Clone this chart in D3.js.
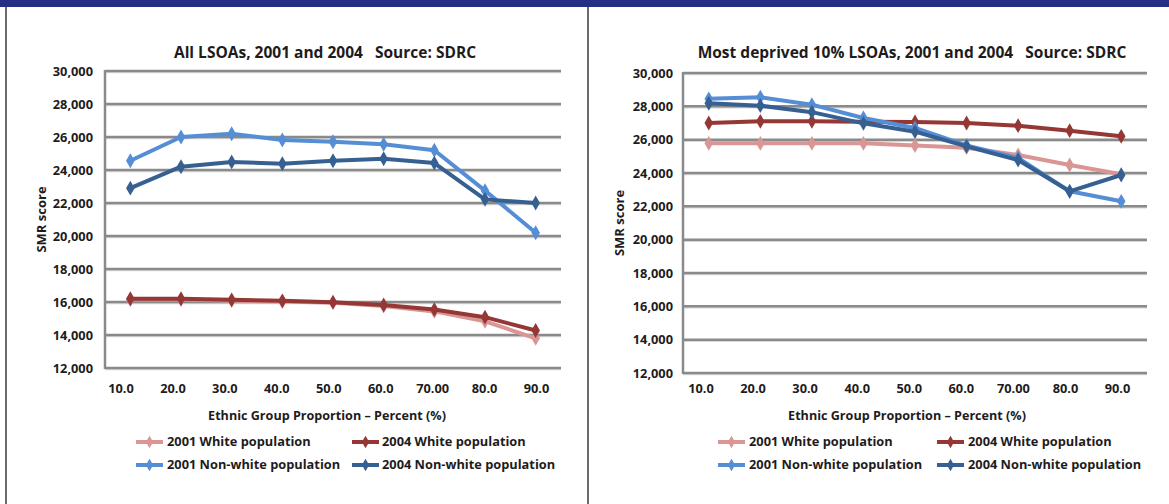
<!DOCTYPE html>
<html>
<head>
<meta charset="utf-8">
<script src="https://cdn.jsdelivr.net/npm/d3@7"></script>
<style>
  html, body { margin: 0; padding: 0; background: #fff; }
  svg { display: block; font-family: "Open Sans", "Noto Sans", sans-serif; }
</style>
</head>
<body>
<svg id="chart" width="1169" height="504"></svg>
<script>
// Ethnic group proportion categories (percent)
const categories = ["10.0", "20.0", "30.0", "40.0", "50.0", "60.0", "70.00", "80.0", "90.0"];
const yTicks = [12000, 14000, 16000, 18000, 20000, 22000, 24000, 26000, 28000, 30000];
const seriesNames = ["2001 White population", "2004 White population", "2001 Non-white population", "2004 Non-white population"];
const seriesColors = ["#d99694", "#953735", "#558ed5", "#376092"];

// All LSOAs
const allWhite2001    = [16150, 16150, 16080, 16030, 15960, 15760, 15430, 14830, 13800];
const allWhite2004    = [16200, 16200, 16130, 16070, 15990, 15820, 15540, 15080, 14270];
const allNonWhite2001 = [24560, 26000, 26200, 25820, 25710, 25560, 25200, 22750, 20200];
const allNonWhite2004 = [22900, 24200, 24490, 24380, 24560, 24680, 24420, 22220, 22000];

// Most deprived 10% LSOAs
const depWhite2001    = [25780, 25780, 25780, 25780, 25650, 25520, 25080, 24480, 23920];
const depWhite2004    = [27000, 27100, 27100, 27080, 27060, 27000, 26840, 26540, 26200];
const depNonWhite2001 = [28450, 28550, 28100, 27300, 26700, 25650, 24900, 22900, 22300];
const depNonWhite2004 = [28180, 28040, 27650, 26980, 26480, 25600, 24780, 22900, 23880];

const svg = d3.select("#chart");

// header band and panel frames
svg.append("rect").attr("x", 0).attr("y", 0).attr("width", 1169).attr("height", 7).attr("fill", "#262f86");
svg.append("line").attr("x1", 6).attr("x2", 6).attr("y1", 7).attr("y2", 504).attr("stroke", "#3a3a3a").attr("stroke-width", 1.5);
svg.append("line").attr("x1", 588).attr("x2", 588).attr("y1", 7).attr("y2", 504).attr("stroke", "#3a3a3a").attr("stroke-width", 1.5);

const gridColor = "#8a8a8a";
const textColor = "#1e1b1c";

function drawPanel(cfg) {
  const g = svg.append("g");
  const x = d3.scaleBand().domain(categories).range([cfg.x0, cfg.x1]);
  const xLab = d3.scalePoint().domain(categories).range(cfg.labelRange);
  const y = d3.scaleLinear().domain([12000, 30000]).range([cfg.yBottom, cfg.yTop]);

  // title
  g.append("text")
    .attr("x", cfg.titleX).attr("y", cfg.titleY)
    .attr("text-anchor", "middle")
    .attr("font-size", 15.5).attr("font-weight", 700).attr("fill", textColor)
    .attr("xml:space", "preserve")
    .text(cfg.title);

  // horizontal gridlines (soft shadow under each)
  const grid = g.append("g");
  grid.selectAll("line.sh").data(yTicks).join("line")
    .attr("x1", cfg.x0).attr("x2", cfg.x1)
    .attr("y1", d => y(d) + 1.5).attr("y2", d => y(d) + 1.5)
    .attr("stroke", "#d8d8d8").attr("stroke-width", 1.5);
  grid.selectAll("line.gl").data(yTicks).join("line")
    .attr("x1", cfg.x0).attr("x2", cfg.x1)
    .attr("y1", d => y(d)).attr("y2", d => y(d))
    .attr("stroke", gridColor).attr("stroke-width", 2.5);

  // left axis line
  g.append("line")
    .attr("x1", cfg.x0).attr("x2", cfg.x0)
    .attr("y1", y(30000) - 1).attr("y2", y(12000) + 1)
    .attr("stroke", gridColor).attr("stroke-width", 2.5);

  // y tick labels
  const yAxis = d3.axisLeft(y).tickValues(yTicks).tickFormat(d3.format(",")).tickSize(0).tickPadding(cfg.x0 - cfg.tickRight);
  const ya = g.append("g").attr("transform", `translate(${cfg.x0},0)`).call(yAxis);
  ya.select(".domain").remove();
  ya.selectAll("text").attr("font-size", 12.8).attr("font-weight", 700).attr("fill", textColor)
    .attr("font-family", "\"Open Sans\", sans-serif");

  // x tick labels
  const xAxis = d3.axisBottom(xLab).tickSize(0).tickPadding(0);
  const xa = g.append("g").attr("transform", `translate(0,${cfg.xLabelY})`).call(xAxis);
  xa.select(".domain").remove();
  xa.selectAll("text").attr("font-size", 12.8).attr("font-weight", 700).attr("fill", textColor)
    .attr("font-family", "\"Open Sans\", sans-serif");

  // axis titles
  g.append("text")
    .attr("x", cfg.xTitleX).attr("y", cfg.xTitleY)
    .attr("text-anchor", "middle").attr("font-size", 12.6).attr("font-weight", 700).attr("fill", textColor)
    .text("Ethnic Group Proportion \u2013 Percent (%)");
  g.append("text")
    .attr("transform", `translate(${cfg.yTitleX},${(y(30000) + y(12000)) / 2}) rotate(-90)`)
    .attr("text-anchor", "middle").attr("font-size", 13).attr("font-weight", 700).attr("fill", textColor)
    .text("SMR score");

  // series
  const line = d3.line().x((d, i) => x(categories[i]) + x.bandwidth() / 2).y(d => y(d));
  const diamond = d3.symbol().type(d3.symbolDiamond).size(64);
  cfg.series.forEach((vals, si) => {
    const s = g.append("g");
    s.append("path").datum(vals)
      .attr("d", line).attr("fill", "none")
      .attr("stroke", seriesColors[si]).attr("stroke-width", 4)
      .attr("stroke-linejoin", "round").attr("stroke-linecap", "round");
    s.selectAll("path.mk").data(vals).join("path")
      .attr("class", "mk")
      .attr("transform", (d, i) => `translate(${x(categories[i]) + x.bandwidth() / 2},${y(d)})`)
      .attr("d", diamond).attr("fill", seriesColors[si]);
  });

  // legend
  const leg = g.append("g");
  seriesNames.forEach((name, i) => {
    const col = i % 2, row = Math.floor(i / 2);
    const lx = cfg.legendX[col], ly = cfg.legendY[row];
    const item = leg.append("g").attr("transform", `translate(${lx},${ly})`);
    item.append("line").attr("x1", 0).attr("x2", 27).attr("y1", 0).attr("y2", 0)
      .attr("stroke", seriesColors[i]).attr("stroke-width", 4);
    item.append("path").attr("transform", "translate(13.5,0)").attr("d", d3.symbol().type(d3.symbolDiamond).size(45)).attr("fill", seriesColors[i]);
    item.append("text").attr("x", cfg.legendTextGap[col]).attr("y", 0).attr("dy", "0.35em")
      .attr("font-size", 12.8).attr("font-weight", 700).attr("fill", textColor)
      .text(name);
  });
}

drawPanel({
  title: "All LSOAs, 2001 and 2004   Source: SDRC",
  titleX: 325, titleY: 58,
  x0: 105, x1: 561, yTop: 71, yBottom: 368,
  labelRange: [120.5, 536],
  tickRight: 93,
  xLabelY: 384,
  xTitleX: 327, xTitleY: 420,
  yTitleX: 46,
  legendX: [136, 352], legendY: [442, 465], legendTextGap: [31, 30],
  series: [allWhite2001, allWhite2004, allNonWhite2001, allNonWhite2004]
});

drawPanel({
  title: "Most deprived 10% LSOAs, 2001 and 2004   Source: SDRC",
  titleX: 912, titleY: 58,
  x0: 683, x1: 1147, yTop: 73, yBottom: 373,
  labelRange: [700.5, 1117],
  tickRight: 673,
  xLabelY: 384,
  xTitleX: 907, xTitleY: 420,
  yTitleX: 624,
  legendX: [718, 937], legendY: [442, 465], legendTextGap: [31, 31],
  series: [depWhite2001, depWhite2004, depNonWhite2001, depNonWhite2004]
});
</script>
</body>
</html>
